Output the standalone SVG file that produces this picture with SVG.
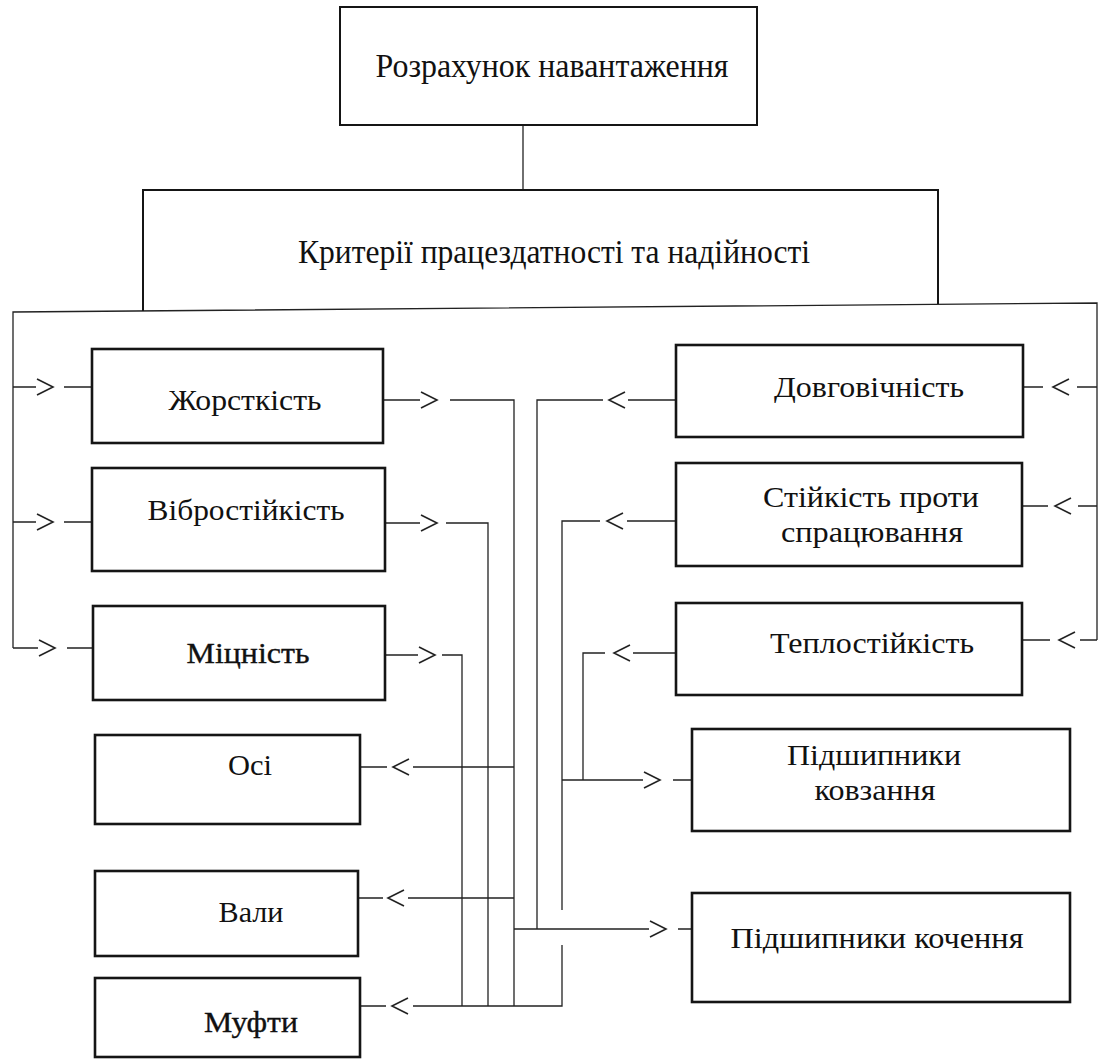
<svg xmlns="http://www.w3.org/2000/svg" xmlns:xlink="http://www.w3.org/1999/xlink" width="1100" height="1059" viewBox="0 0 1100 1059">
<style>
.box{fill:none;stroke:#151515;stroke-width:2.6}
.tbox{fill:none;stroke:#151515;stroke-width:2}
.ln{fill:none;stroke:#222;stroke-width:1.3}
.ch{fill:none;stroke:#222;stroke-width:1.6}
.t{font-family:"Liberation Serif","Times New Roman","DejaVu Serif",serif;font-size:30px;fill:#111;text-anchor:middle}
.big{font-size:33px}
.heavy{stroke:#111;stroke-width:0.35}
</style>
<defs>
<path id="chevR" class="ch" d="M0,-8 L16,0 L0,8"/>
<path id="chevL" class="ch" d="M16,-8 L0,0 L16,8"/>
</defs>
<rect width="1100" height="1059" fill="#fff"/>

<g id="connectors">
<path class="ln" d="M523,125 V190"/>
<path class="ln" d="M13,648 V312 L1097,303 V640"/>
<path class="ln" d="M13,387 H36 M64,387 H92"/><use href="#chevR" x="37" y="387"/>
<path class="ln" d="M13,522 H36 M64,522 H92"/><use href="#chevR" x="37" y="522"/>
<path class="ln" d="M13,648 H38 M67,648 H93"/><use href="#chevR" x="39" y="648"/>
<path class="ln" d="M383,400 H420 M450,400 H514 V1006"/><use href="#chevR" x="421" y="400"/>
<path class="ln" d="M385,523 H420 M446,523 H488 V1006"/><use href="#chevR" x="421" y="523"/>
<path class="ln" d="M385,655 H418 M442,655 H462 V1006"/><use href="#chevR" x="419" y="655"/>
<path class="ln" d="M514,767 H413 M387,767 H360"/><use href="#chevL" x="393" y="767"/>
<path class="ln" d="M514,898 H408 M383,898 H358"/><use href="#chevL" x="388" y="898"/>
<path class="ln" d="M562,945 V1006 H413 M386,1006 H360"/><use href="#chevL" x="392" y="1006"/>
<path class="ln" d="M1097,387 H1077 M1043,387 H1023"/><use href="#chevL" x="1053" y="387"/>
<path class="ln" d="M1097,506 H1078 M1048,506 H1022"/><use href="#chevL" x="1055" y="506"/>
<path class="ln" d="M1097,640 H1080 M1050,640 H1022"/><use href="#chevL" x="1059" y="640"/>
<path class="ln" d="M676,400 H628 M603,400 H537 V929"/><use href="#chevL" x="609" y="400"/>
<path class="ln" d="M676,521 H627 M600,521 H562 V910"/><use href="#chevL" x="607" y="521"/>
<path class="ln" d="M676,653 H633 M605,653 H583 V780"/><use href="#chevL" x="614" y="653"/>
<path class="ln" d="M562,780 H643 M673,780 H692"/><use href="#chevR" x="644" y="780"/>
<path class="ln" d="M514,929 H649 M678,929 H692"/><use href="#chevR" x="650" y="929"/>
</g>

<g id="n-load">
<rect class="tbox" x="340" y="7" width="417" height="118"/>
<text class="t big" x="552" y="77" textLength="353" lengthAdjust="spacingAndGlyphs">Розрахунок навантаження</text>
</g>
<g id="n-criteria">
<path class="tbox" d="M143,311 V190 H938 V304"/>
<text class="t big" x="554" y="263" textLength="512" lengthAdjust="spacingAndGlyphs">Критерії працездатності та надійності</text>
</g>

<g id="n-stiffness">
<rect class="box" x="92" y="349" width="291" height="94"/>
<text class="t" x="245" y="410" textLength="153" lengthAdjust="spacingAndGlyphs">Жорсткість</text>
</g>
<g id="n-vibration">
<rect class="box" x="92" y="468" width="293" height="103"/>
<text class="t" x="246" y="520" textLength="197" lengthAdjust="spacingAndGlyphs">Вібростійкість</text>
</g>
<g id="n-strength">
<rect class="box" x="93" y="606" width="292" height="94"/>
<text class="t heavy" x="248" y="663" textLength="123" lengthAdjust="spacingAndGlyphs">Міцність</text>
</g>
<g id="n-axles">
<rect class="box" x="95" y="735" width="265" height="89"/>
<text class="t" x="250" y="775" textLength="44" lengthAdjust="spacingAndGlyphs">Осі</text>
</g>
<g id="n-shafts">
<rect class="box" x="95" y="871" width="263" height="85"/>
<text class="t" x="251" y="922" textLength="65" lengthAdjust="spacingAndGlyphs">Вали</text>
</g>
<g id="n-couplings">
<rect class="box" x="95" y="978" width="265" height="79"/>
<text class="t heavy" x="251" y="1032" textLength="94" lengthAdjust="spacingAndGlyphs">Муфти</text>
</g>

<g id="n-durability">
<rect class="box" x="676" y="345" width="347" height="92"/>
<text class="t" x="869" y="397" textLength="190" lengthAdjust="spacingAndGlyphs">Довговічність</text>
</g>
<g id="n-wear">
<rect class="box" x="676" y="463" width="346" height="103"/>
<text class="t" x="871" y="507" textLength="216" lengthAdjust="spacingAndGlyphs">Стійкість проти</text>
<text class="t" x="872" y="542" textLength="182" lengthAdjust="spacingAndGlyphs">спрацювання</text>
</g>
<g id="n-heat">
<rect class="box" x="676" y="603" width="346" height="92"/>
<text class="t" x="872" y="653" textLength="204" lengthAdjust="spacingAndGlyphs">Теплостійкість</text>
</g>
<g id="n-sliding">
<rect class="box" x="692" y="729" width="378" height="102"/>
<text class="t" x="874" y="765" textLength="174" lengthAdjust="spacingAndGlyphs">Підшипники</text>
<text class="t" x="875" y="800" textLength="121" lengthAdjust="spacingAndGlyphs">ковзання</text>
</g>
<g id="n-rolling">
<rect class="box" x="692" y="893" width="378" height="109"/>
<text class="t" x="877" y="948" textLength="293" lengthAdjust="spacingAndGlyphs">Підшипники кочення</text>
</g>
</svg>
